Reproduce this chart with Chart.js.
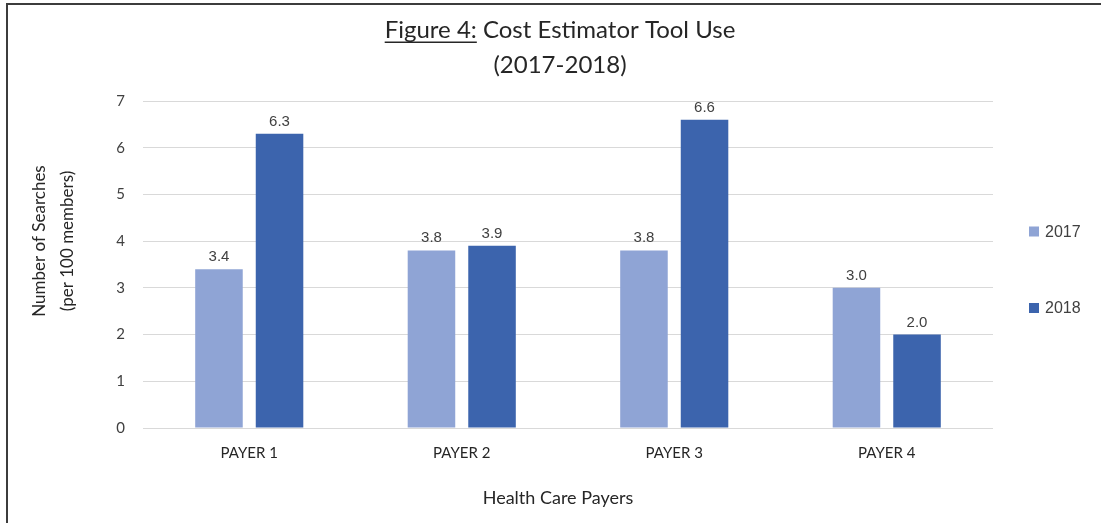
<!DOCTYPE html>
<html><head><meta charset="utf-8">
<script src="https://cdn.jsdelivr.net/npm/chart.js@4"></script>
<style>
html,body{margin:0;padding:0;background:#fff;overflow:hidden;}
#wrap{position:relative;width:1101px;height:523px;}
#frame{position:absolute;left:6px;top:3px;width:1300px;height:800px;border:2px solid #3c3c3c;box-sizing:border-box;pointer-events:none;}
canvas{display:block;}
</style></head><body>
<div id="wrap"><canvas id="c" width="1101" height="523"></canvas><div id="frame"></div></div>
<script>
const categories = ['PAYER 1', 'PAYER 2', 'PAYER 3', 'PAYER 4'];
const series2017 = [3.4, 3.8, 3.8, 3.0];
const series2018 = [6.3, 3.9, 6.6, 2.0];
const seriesNames = ['2017', '2018'];
const yTickValues = [0, 1, 2, 3, 4, 5, 6, 7];
const titleUnderlined = 'Figure 4:';
const titleRest = ' Cost Estimator Tool Use';
const titleLine2 = '(2017-2018)';
const yTitleLines = ['Number of Searches', '(per 100 members)'];
const xTitleText = 'Health Care Payers';

const colors = ['#8FA4D5', '#3C64AD'];
const MAIN_FONT = 'Lato, "Open Sans", sans-serif';
const LABEL_FONT = '"Liberation Sans", Arial, sans-serif';

const extras = {
  id: 'extras',
  afterDraw(chart) {
    const ctx = chart.ctx;
    ctx.save();
    // Main title
    ctx.fillStyle = '#262626';
    ctx.font = '24px ' + MAIN_FONT;
    ctx.textBaseline = 'middle';
    ctx.textAlign = 'left';
    const w1 = ctx.measureText(titleUnderlined).width;
    const w2 = ctx.measureText(titleRest).width;
    const cx = 560;
    const sx = cx - (w1 + w2) / 2;
    ctx.fillText(titleUnderlined, sx, 30);
    ctx.fillText(titleRest, sx + w1, 30);
    ctx.fillRect(sx, 41.5, w1, 1.5);
    ctx.textAlign = 'center';
    ctx.fillText(titleLine2, cx, 65);

    // Y axis title
    ctx.font = '17px ' + MAIN_FONT;
    ctx.save();
    ctx.translate(40, 241);
    ctx.rotate(-Math.PI / 2);
    ctx.textAlign = 'center';
    ctx.textBaseline = 'middle';
    ctx.fillText(yTitleLines[0], 0, 0);
    ctx.fillText(yTitleLines[1], 0, 28);
    ctx.restore();

    // X axis title
    ctx.font = '18px ' + MAIN_FONT;
    ctx.textAlign = 'center';
    ctx.textBaseline = 'middle';
    ctx.fillText(xTitleText, 558, 498);

    // Data labels
    ctx.font = '15px ' + LABEL_FONT;
    ctx.fillStyle = '#404040';
    ctx.textBaseline = 'alphabetic';
    chart.data.datasets.forEach((ds, di) => {
      const meta = chart.getDatasetMeta(di);
      meta.data.forEach((el, i) => {
        ctx.fillText(ds.data[i].toFixed(1), el.x, el.y - 8);
      });
    });

    // Legend
    ctx.font = '16px ' + LABEL_FONT;
    ctx.textAlign = 'left';
    ctx.textBaseline = 'middle';
    const legendY = [231.5, 308];
    chart.data.datasets.forEach((ds, di) => {
      ctx.fillStyle = ds.backgroundColor;
      ctx.fillRect(1029, legendY[di] - 5, 10, 10);
      ctx.fillStyle = '#404040';
      ctx.fillText(ds.label, 1045, legendY[di] + 1);
    });
    ctx.restore();
  }
};

new Chart(document.getElementById('c'), {
  type: 'bar',
  data: {
    labels: categories,
    datasets: [
      { label: seriesNames[0], data: series2017, backgroundColor: colors[0], categoryPercentage: 0.57, barPercentage: 0.785 },
      { label: seriesNames[1], data: series2018, backgroundColor: colors[1], categoryPercentage: 0.57, barPercentage: 0.785 }
    ]
  },
  options: {
    responsive: false,
    animation: false,
    devicePixelRatio: 1,
    layout: { padding: { top: 101, right: 108, bottom: 0, left: 0 } },
    plugins: { legend: { display: false }, title: { display: false }, tooltip: { enabled: false } },
    scales: {
      y: {
        min: 0, max: 7,
        afterBuildTicks: (s) => { s.ticks = yTickValues.map(v => ({ value: v })); },
        afterFit: (s) => { s.width = 143; },
        ticks: { padding: 18, color: '#404040', font: { family: MAIN_FONT, size: 15 } },
        grid: { color: '#d9d9d9', drawTicks: false, lineWidth: 1 },
        border: { display: false }
      },
      x: {
        afterFit: (s) => { s.height = 95; },
        ticks: { padding: 16, color: '#262626', font: { family: MAIN_FONT, size: 15 } },
        grid: { display: false, drawTicks: false },
        border: { display: false }
      }
    }
  },
  plugins: [extras]
});
</script>
</body></html>
